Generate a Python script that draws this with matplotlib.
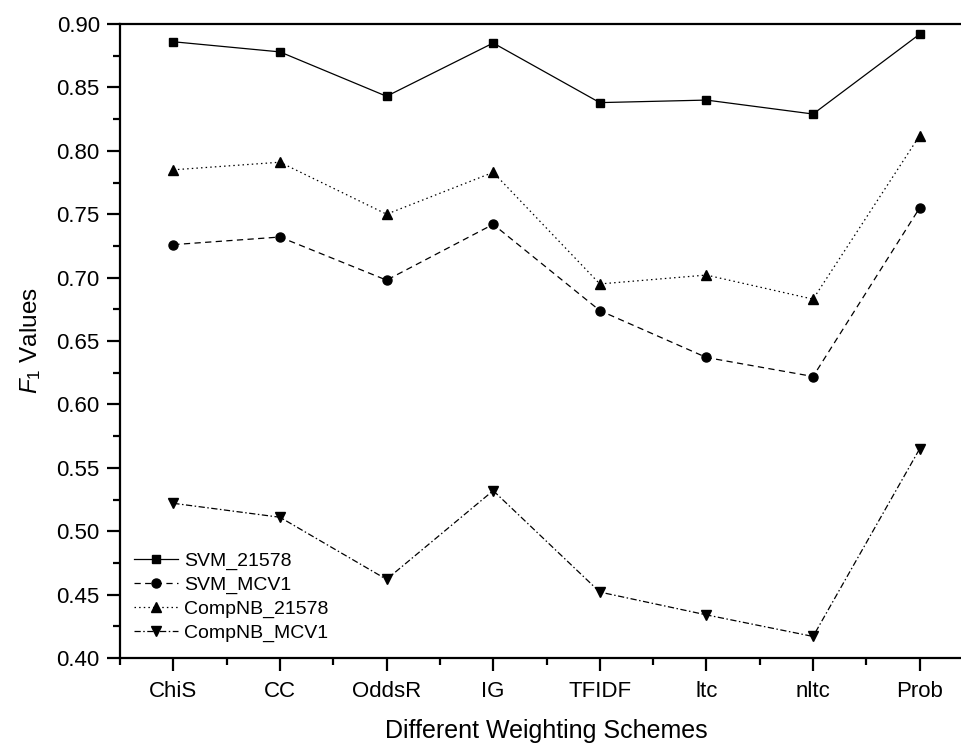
import matplotlib
matplotlib.use("Agg")
import matplotlib.pyplot as plt
from matplotlib.ticker import MultipleLocator, FixedLocator

categories = ["ChiS", "CC", "OddsR", "IG", "TFIDF", "ltc", "nltc", "Prob"]
svm_21578 = [0.886, 0.878, 0.843, 0.885, 0.838, 0.840, 0.829, 0.892]
svm_mcv1 = [0.726, 0.732, 0.698, 0.742, 0.674, 0.637, 0.622, 0.755]
compnb_21578 = [0.785, 0.791, 0.750, 0.783, 0.695, 0.702, 0.683, 0.812]
compnb_mcv1 = [0.522, 0.511, 0.462, 0.532, 0.452, 0.434, 0.417, 0.565]

plt.rcParams['font.family'] = ['Liberation Sans', 'DejaVu Sans']
plt.rcParams['mathtext.fontset'] = 'custom'
plt.rcParams['mathtext.rm'] = 'Liberation Sans'
plt.rcParams['mathtext.it'] = 'Liberation Sans:italic'

fig = plt.figure(figsize=(9.61, 7.44), dpi=100)
ax = fig.add_axes([120/961, 1-658/744, 853/961, (658-24)/744])

x = list(range(len(categories)))
ms = 6.5
ax.plot(x, svm_21578, color='black', lw=0.9, ls='-', marker='s', ms=ms*0.85, label='SVM_21578')
ax.plot(x, svm_mcv1, color='black', lw=0.9, ls=(0, (5, 3.5)), marker='o', ms=ms, label='SVM_MCV1')
ax.plot(x, compnb_21578, color='black', lw=0.9, ls=(0, (1.2, 2.5)), marker='^', ms=ms+1, label='CompNB_21578')
ax.plot(x, compnb_mcv1, color='black', lw=0.9, ls=(0, (5, 2, 1.2, 2)), marker='v', ms=ms+1, label='CompNB_MCV1')

ax.set_xlim(-0.5, 7.5)
ax.set_ylim(0.40, 0.90)
ax.set_xticks(x)
ax.set_xticklabels(categories)
ax.xaxis.set_minor_locator(FixedLocator([i + 0.5 for i in range(-1, 8)]))
ax.yaxis.set_major_locator(MultipleLocator(0.05))
ax.yaxis.set_minor_locator(MultipleLocator(0.025))
ax.yaxis.set_major_formatter(matplotlib.ticker.FormatStrFormatter('%.2f'))

for s in ['left', 'bottom', 'top']:
    ax.spines[s].set_linewidth(1.6)
ax.spines['right'].set_visible(False)
ax.tick_params(axis='both', which='major', direction='out', length=9.5, width=1.6, labelsize=16)
ax.tick_params(axis='both', which='minor', direction='out', length=5, width=1.6)
ax.tick_params(axis='y', which='both', right=False, pad=5)
ax.tick_params(axis='x', which='both', top=False, pad=7)

ax.set_xlabel('Different Weighting Schemes', fontsize=18, labelpad=12)
ax.set_ylabel(r'$\mathit{F}_{1}$ Values', fontsize=17.5, labelpad=10)

leg = ax.legend(loc='lower left', bbox_to_anchor=(0.0, 0.003), frameon=False, fontsize=14,
                handlelength=2.3, handletextpad=0.3, labelspacing=0.32, borderaxespad=0.3)

fig.savefig('out.png', dpi=100)
